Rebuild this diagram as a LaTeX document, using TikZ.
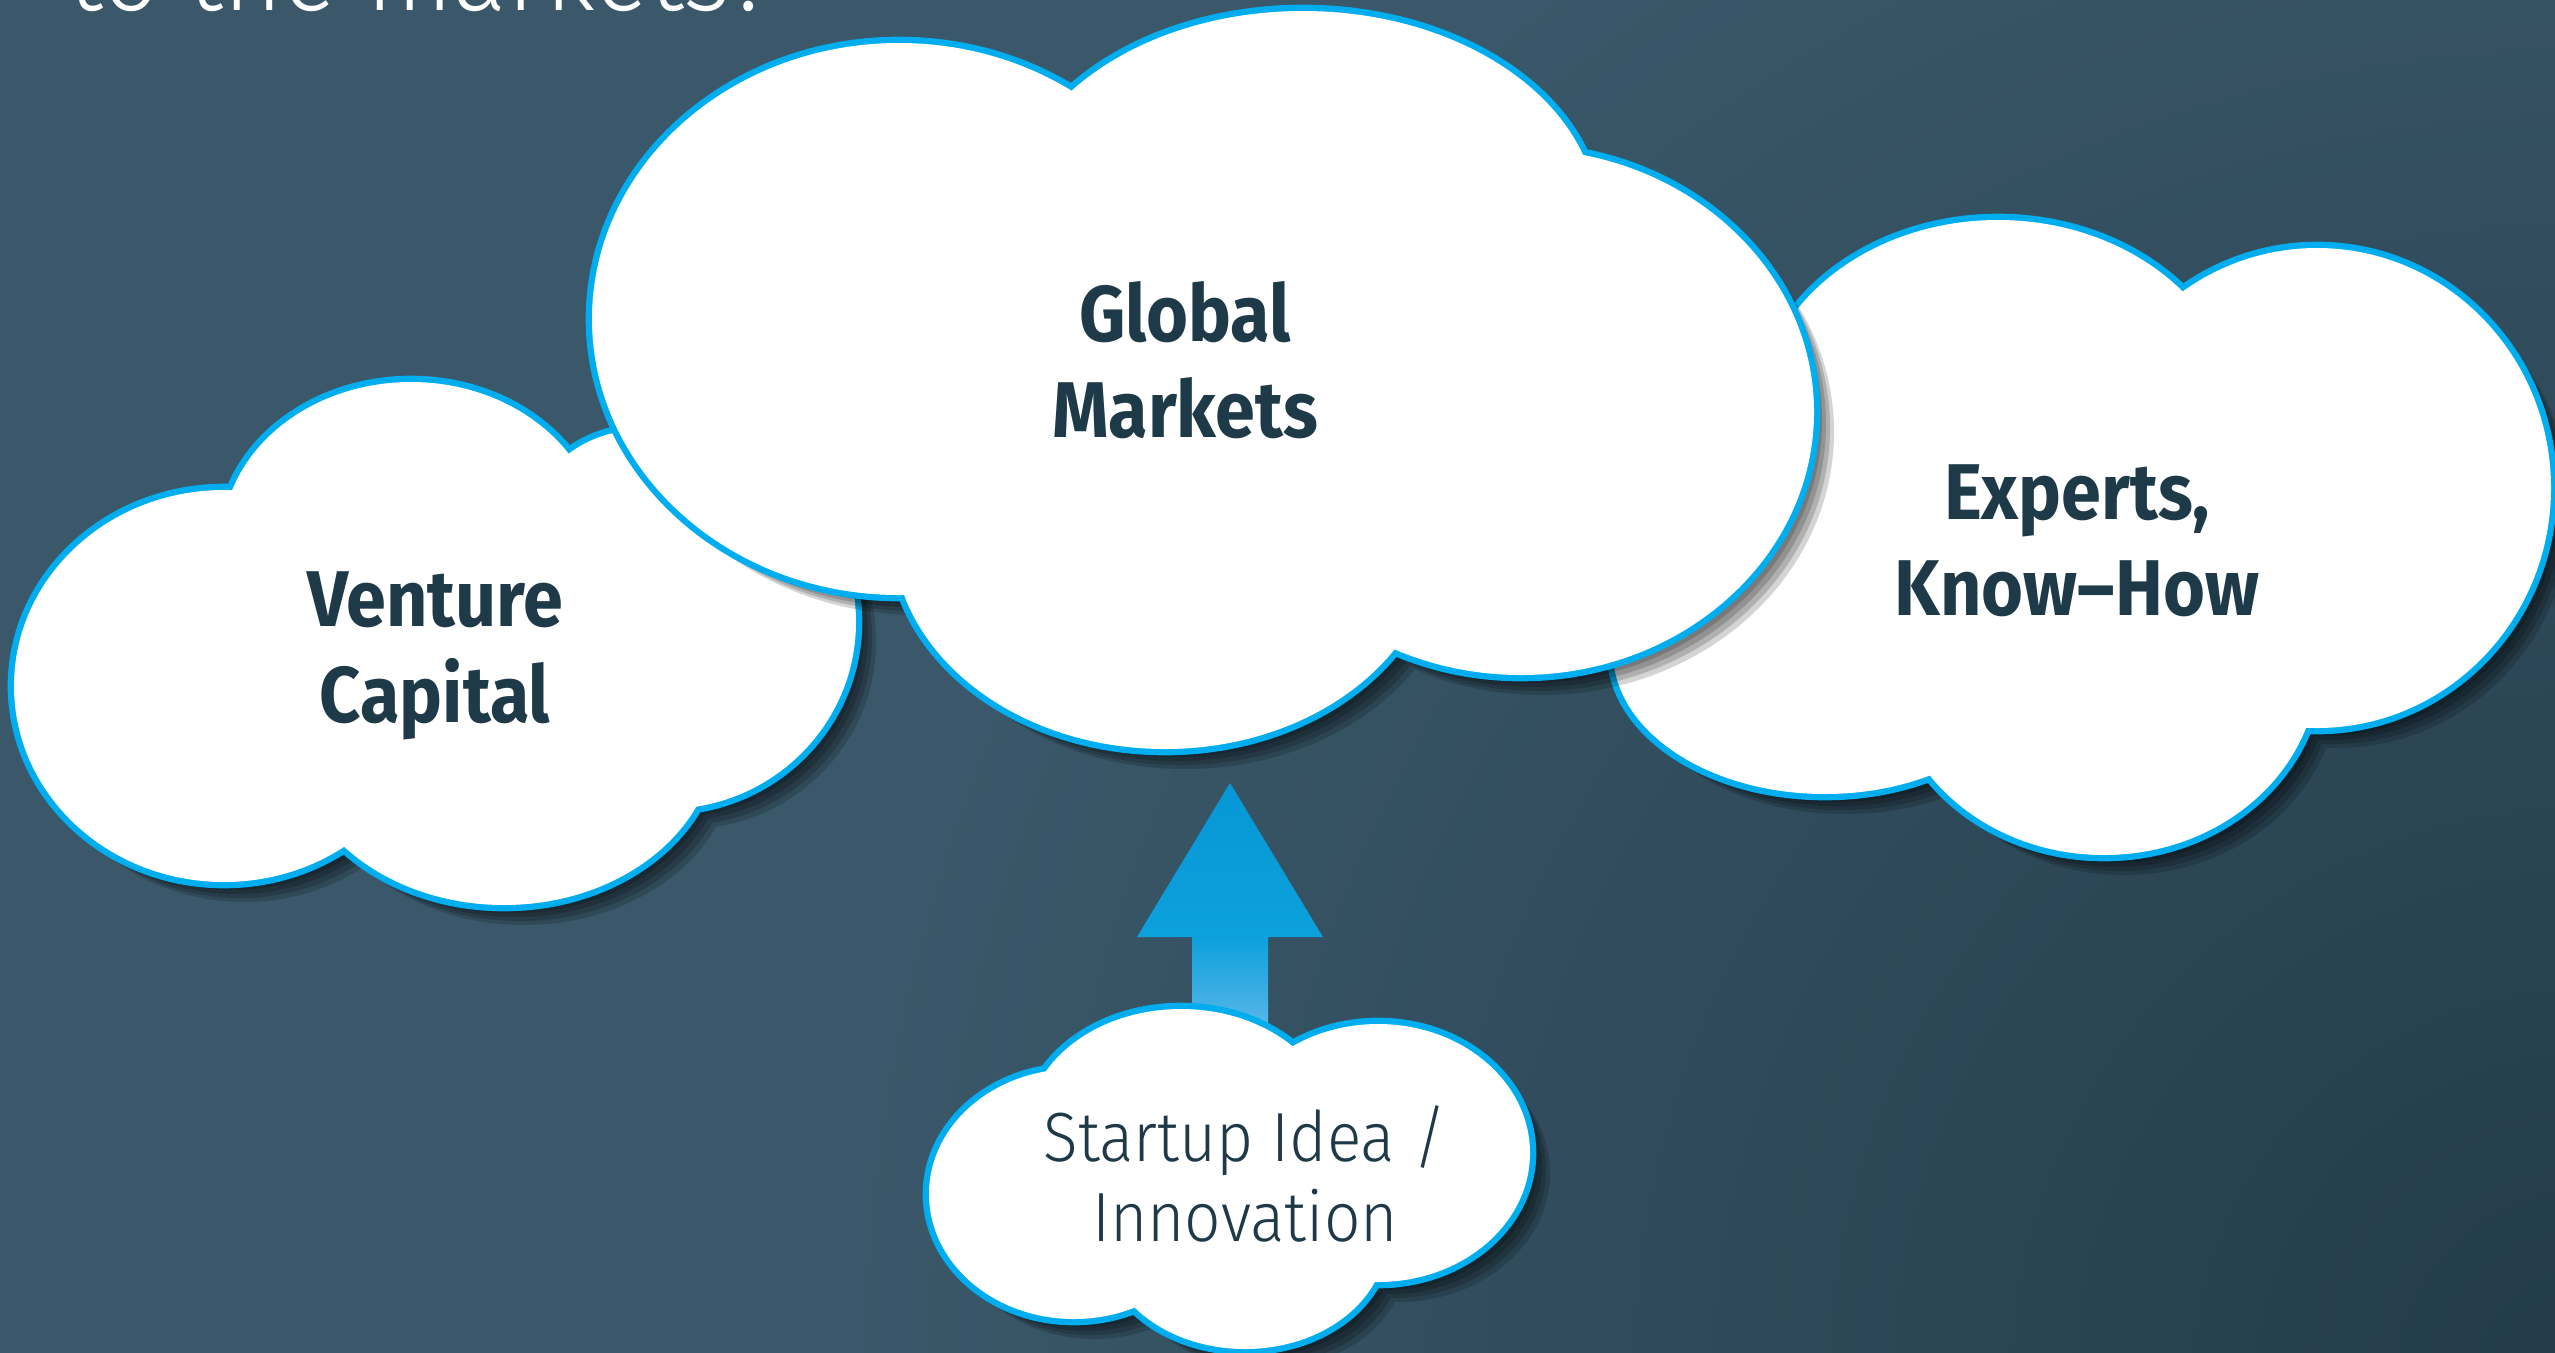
\documentclass[tikz,border=0pt]{standalone}
\usepackage{fontspec}
\setmainfont{Fira Sans}
\newfontfamily\heavyface{Fira Sans Bold}[FakeStretch=0.91]
\newfontfamily\lightface{Fira Sans Light}[FakeStretch=0.92]

\definecolor{bgtop}{RGB}{58,88,105}
\definecolor{bgcorner}{RGB}{35,59,74}
\definecolor{rim}{RGB}{0,174,239}
\definecolor{ink}{RGB}{30,58,72}
\definecolor{arrowtop}{RGB}{6,152,214}
\definecolor{arrowmid}{RGB}{12,160,220}
\definecolor{arrowsoft}{RGB}{78,180,230}
\definecolor{arrowlow}{RGB}{100,190,234}

\pgfdeclareverticalshading{arrowgrad}{100bp}{color(0bp)=(arrowlow); color(25bp)=(arrowlow); color(30bp)=(arrowsoft); color(45bp)=(arrowmid); color(75bp)=(arrowtop); color(100bp)=(arrowtop)}

% cloud outlines, one ellipse per lobe
\def\ventureshape{(224,686) ellipse [x radius=210, y radius=196] (411,542) ellipse [x radius=189, y radius=160] (640,540) ellipse [x radius=115, y radius=110] (666,622) ellipse [x radius=190, y radius=187] (504,735) ellipse [x radius=212, y radius=170]}
\def\expertshape{(1750,480) ellipse [x radius=120, y radius=160] (1998,420) ellipse [x radius=241, y radius=200] (2317,488) ellipse [x radius=234, y radius=240] (2104,665) ellipse [x radius=214, y radius=190] (1825,652) ellipse [x radius=212, y radius=142]}
\def\ideashape{(1074,1194) ellipse [x radius=145, y radius=125] (1181,1129) ellipse [x radius=154, y radius=120] (1378,1153) ellipse [x radius=152, y radius=129] (1245,1239) ellipse [x radius=141, y radius=110]}
\def\globalshape{(899,319) ellipse [x radius=307, y radius=276] (1303,221) ellipse [x radius=295, y radius=210] (1521,412) ellipse [x radius=293, y radius=263] (1165,534) ellipse [x radius=272, y radius=215]}

\newcommand{\puffcloud}[1]{%
  \foreach \s in {4,8,12,16,20}{%
    \begin{scope}[transparency group, opacity=.17, shift={(\s,\s)}]
      \fill[black] #1;
    \end{scope}}
  \draw[cloudrim] #1;
  \fill[white] #1;}

\begin{document}
\begin{tikzpicture}[x=0.1mm, y=-0.1mm]

  \tikzstyle{cloudrim}=[draw=rim, line width=3.6pt]
  \tikzstyle{heavytext}=[text=ink, align=center, inner sep=0pt, font=\heavyface\fontsize{22.5}{27.3}\selectfont]
  \tikzstyle{lighttext}=[text=ink, align=center, inner sep=0pt, font=\lightface\fontsize{19.8}{23}\selectfont]
  \tikzstyle{titletext}=[text=white, anchor=base west, inner sep=0pt, font=\lightface\fontsize{31.5}{32}\selectfont]
  \tikzstyle{blockarrow}=[shading=arrowgrad]

  \useasboundingbox (0,0) rectangle (2555,1352);

  \fill[bgtop] (-30,-30) rectangle (2585,1382);
  \begin{scope}
    \clip (-30,-30) rectangle (2585,1382);
    \shade[inner color=bgcorner, outer color=bgtop] (2585,1382) circle (1750);
  \end{scope}

  \node [titletext] (title) at (68,10) {to the markets?};

  \puffcloud{\ventureshape}
  \node [heavytext] (venture) at (435,656) {Venture\\Capital};

  \puffcloud{\expertshape}
  \node [heavytext] (experts) at (2077,541) {Experts,\\Know–How};

  \coordinate (arrowtip) at (1230,783);
  \shade [blockarrow] (arrowtip) -- ++(93,154) -- ++(-55,0) -- ++(0,103)
    -- ++(-76,0) -- ++(0,-103) -- ++(-55,0) -- cycle;

  \puffcloud{\ideashape}
  \node [lighttext] (idea) at (1245,1174) {Startup Idea /\\Innovation};

  \puffcloud{\globalshape}
  \node [heavytext] (global) at (1185,360) {Global\\Markets};

\end{tikzpicture}
\end{document}
